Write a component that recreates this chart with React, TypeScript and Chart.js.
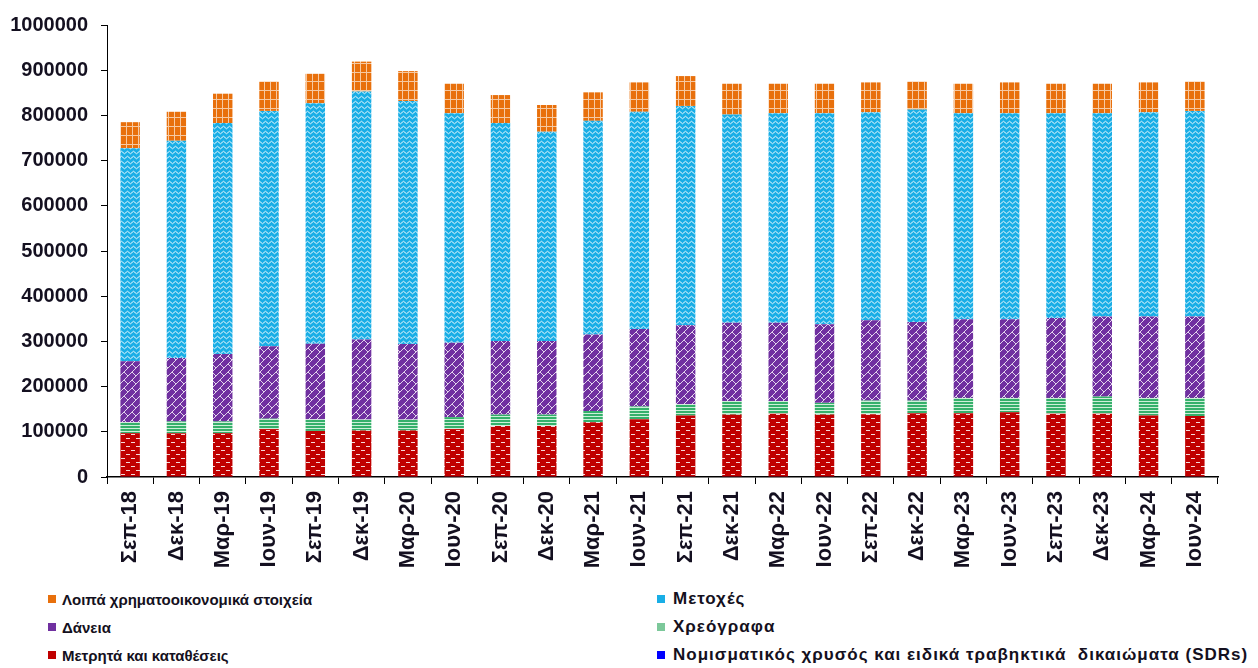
import React, { useEffect, useRef } from "react";
import { Chart, registerables } from "chart.js";

Chart.register(...registerables);

const categories = [
  "Σεπ-18", "Δεκ-18", "Μαρ-19", "Ιουν-19", "Σεπ-19", "Δεκ-19",
  "Μαρ-20", "Ιουν-20", "Σεπ-20", "Δεκ-20", "Μαρ-21", "Ιουν-21",
  "Σεπ-21", "Δεκ-21", "Μαρ-22", "Ιουν-22", "Σεπ-22", "Δεκ-22",
  "Μαρ-23", "Ιουν-23", "Σεπ-23", "Δεκ-23", "Μαρ-24", "Ιουν-24",
];

const goldSDR = [1000, 1000, 1000, 1000, 1000, 1000, 1000, 1000, 1000, 1000, 1000, 1000,
  1000, 1000, 1000, 1000, 1000, 1000, 1000, 1000, 1000, 1000, 1000, 1000];
const cashDeposits = [96000, 96000, 96000, 105000, 101000, 102000, 102000, 105000, 112000, 112000, 120000, 127000,
  135000, 137000, 139000, 137000, 138000, 140000, 140000, 142000, 139000, 139000, 135000, 134000];
const bonds = [24000, 26000, 26000, 23000, 25500, 24000, 24000, 26500, 25000, 25000, 25000, 28000,
  25000, 30000, 28000, 26000, 30000, 28000, 34000, 32000, 35000, 38000, 39000, 40000];
const loans = [135000, 140000, 149000, 160000, 167500, 177000, 167000, 164500, 163000, 163000, 169000, 171500,
  175000, 173000, 173000, 174000, 178000, 174000, 174000, 174000, 177000, 177000, 180000, 180000];
const shares = [471500, 481000, 511000, 521000, 532000, 549000, 538000, 508000, 482000, 463000, 473000, 480500,
  485000, 461000, 464000, 467000, 460000, 470000, 456000, 456000, 453000, 450000, 452000, 455000];
const otherItems = [57500, 64000, 65000, 65000, 65000, 66000, 66000, 65000, 62000, 59000, 63000, 65000,
  66000, 68000, 65000, 65000, 66000, 62000, 65000, 68000, 65000, 65000, 66000, 65000];

const yTicks = [0, 100000, 200000, 300000, 400000, 500000, 600000, 700000, 800000, 900000, 1000000];

const legendLeft = [
  { label: "Λοιπά χρηματοοικονομικά στοιχεία", color: "#E8700C" },
  { label: "Δάνεια", color: "#7030A0" },
  { label: "Μετρητά και καταθέσεις", color: "#C00000" },
];
const legendRight = [
  { label: "Μετοχές", color: "#19AEE6" },
  { label: "Χρεόγραφα", color: "#7CC89A" },
  { label: "Νομισματικός χρυσός και ειδικά τραβηκτικά  δικαιώματα (SDRs)", color: "#0000FF" },
];

const FONT = "'Liberation Sans', Arial, sans-serif";
const TEXT = "#141020";

function tile(target: CanvasRenderingContext2D, w: number, h: number, bg: string, draw: (c: CanvasRenderingContext2D) => void) {
  const cv = document.createElement("canvas");
  cv.width = w;
  cv.height = h;
  const c = cv.getContext("2d") as CanvasRenderingContext2D;
  c.fillStyle = bg;
  c.fillRect(0, 0, w, h);
  draw(c);
  return target.createPattern(cv, "repeat") as CanvasPattern;
}

export default function App() {
  const ref = useRef<HTMLCanvasElement | null>(null);

  useEffect(() => {
    const canvas = ref.current;
    if (!canvas) return;
    const ctx = canvas.getContext("2d") as CanvasRenderingContext2D;

    const orangeP = tile(ctx, 6, 9, "#E8700C", (c) => {
      c.fillStyle = "#F6C9A2";
      c.fillRect(0, 0, 1, 9);
      c.fillRect(0, 0, 6, 1);
    });
    const blueP = tile(ctx, 6, 5, "#19AEE6", (c) => {
      c.strokeStyle = "rgba(255,255,255,0.9)";
      c.lineWidth = 1;
      c.beginPath();
      c.moveTo(0, 2.5);
      c.quadraticCurveTo(1.5, 0, 3, 2.5);
      c.quadraticCurveTo(4.5, 5, 6, 2.5);
      c.stroke();
    });
    const purpleP = tile(ctx, 8, 8, "#7030A0", (c) => {
      c.strokeStyle = "rgba(255,255,255,0.8)";
      c.lineWidth = 1;
      c.beginPath();
      c.moveTo(0, 8);
      c.lineTo(8, 0);
      c.moveTo(4, 4);
      c.lineTo(8, 8);
      c.stroke();
    });
    const greenP = tile(ctx, 4, 3, "#35B06B", (c) => {
      c.fillStyle = "#CDEFD8";
      c.fillRect(0, 2, 4, 1);
    });
    const redP = tile(ctx, 10, 8, "#C00000", (c) => {
      c.fillStyle = "rgba(255,255,255,0.85)";
      c.fillRect(1, 2, 4, 1);
      c.fillRect(6, 6, 4, 1);
    });

    const common = { barPercentage: 0.42, categoryPercentage: 1, borderWidth: 0 };

    const chart = new Chart(canvas, {
      type: "bar",
      data: {
        labels: categories,
        datasets: [
          { label: "Νομισματικός χρυσός και ειδικά τραβηκτικά δικαιώματα (SDRs)", data: goldSDR, backgroundColor: "#0000FF", ...common },
          { label: "Μετρητά και καταθέσεις", data: cashDeposits, backgroundColor: redP, ...common },
          { label: "Χρεόγραφα", data: bonds, backgroundColor: greenP, ...common },
          { label: "Δάνεια", data: loans, backgroundColor: purpleP, ...common },
          { label: "Μετοχές", data: shares, backgroundColor: blueP, ...common },
          { label: "Λοιπά χρηματοοικονομικά στοιχεία", data: otherItems, backgroundColor: orangeP, ...common },
        ],
      },
      options: {
        animation: false,
        responsive: false,
        maintainAspectRatio: false,
        layout: { padding: { left: 0, right: 40, top: 22, bottom: 0 } },
        plugins: { legend: { display: false }, tooltip: { enabled: false } },
        scales: {
          x: {
            stacked: true,
            afterFit: (s: any) => { s.height = 103; },
            border: { display: true, color: "#000", width: 1.5 },
            grid: { display: true, drawOnChartArea: false, drawTicks: true, tickLength: 7, color: "#000", offset: true },
            ticks: {
              autoSkip: false,
              maxRotation: 90,
              minRotation: 90,
              padding: 7,
              color: TEXT,
              font: { family: FONT, size: 22, weight: "bold" },
            },
          },
          y: {
            stacked: true,
            min: 0,
            max: 1000000,
            afterFit: (s: any) => { s.width = 107; },
            afterBuildTicks: (s: any) => { s.ticks = yTicks.map((v) => ({ value: v })); },
            border: { display: true, color: "#000", width: 1 },
            grid: { display: true, drawOnChartArea: false, drawTicks: true, tickLength: 6, color: "#000" },
            ticks: {
              padding: 13,
              color: TEXT,
              font: { family: FONT, size: 20, weight: "bold" },
              callback: (v: any) => String(v),
            },
          },
        },
      },
    });
    return () => chart.destroy();
  }, []);

  const row = (item: { label: string; color: string }, left: number, top: number, size: number, spacing: number, gap: number) => (
    <div key={item.label} style={{ position: "absolute", left, top, height: 22, display: "flex", alignItems: "center", whiteSpace: "pre" }}>
      <div style={{ width: 8, height: 8, background: item.color, marginRight: gap }} />
      <span style={{ fontFamily: FONT, fontWeight: "bold", fontSize: size, letterSpacing: spacing, color: TEXT }}>{item.label}</span>
    </div>
  );

  return (
    <div style={{ position: "fixed", left: 0, top: 0, width: 1258, height: 668, background: "#fff" }}>
      <canvas ref={ref} width={1258} height={580} style={{ position: "absolute", left: 0, top: 0, width: 1258, height: 580 }} />
      {legendLeft.map((it, i) => row(it, 48, 588 + i * 28, 15, 0, 6))}
      {legendRight.map((it, i) => row(it, 657, 588 + i * 28, 17, 1, 8))}
    </div>
  );
}
